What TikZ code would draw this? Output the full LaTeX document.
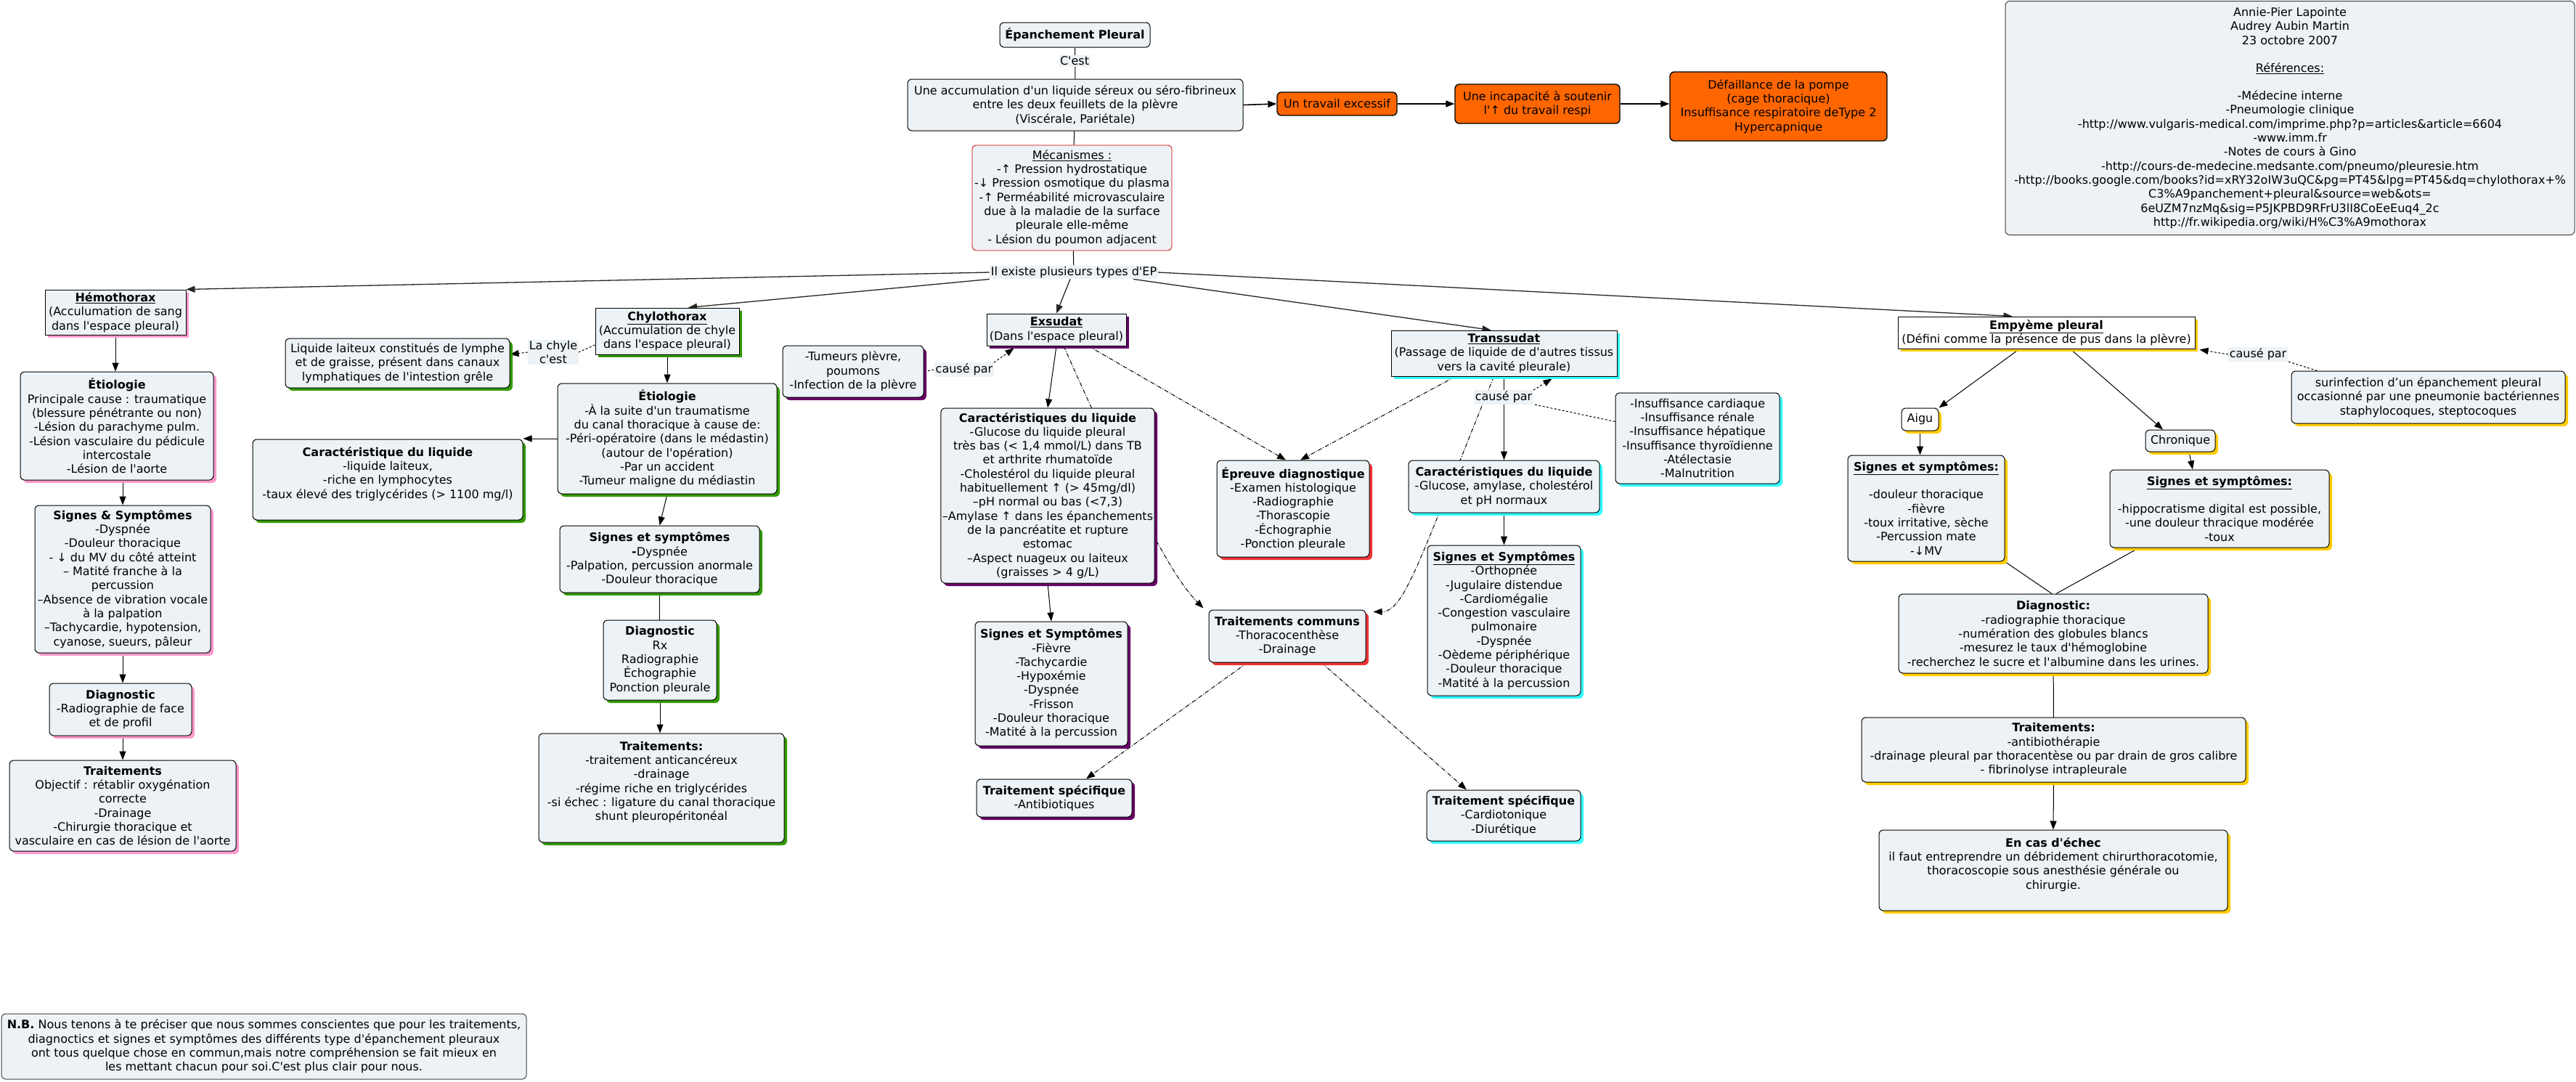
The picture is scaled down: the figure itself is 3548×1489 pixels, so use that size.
\documentclass[tikz,border=0pt]{standalone}
\usepackage{fontspec}
\setmainfont{DejaVu Sans}[Ligatures=TeXOff]
\usetikzlibrary{arrows.meta,shadows}
\pgfdeclarelayer{background}
\pgfsetlayers{background,main}
\definecolor{nfill}{RGB}{236,242,245}
\definecolor{cpink}{RGB}{255,153,204}
\definecolor{cgreen}{RGB}{51,153,0}
\definecolor{cpurple}{RGB}{102,0,102}
\definecolor{cred}{RGB}{238,51,51}
\definecolor{ccyan}{RGB}{51,255,255}
\definecolor{cyellow}{RGB}{255,204,0}
\definecolor{corange}{RGB}{255,102,0}
\definecolor{cmeca}{RGB}{204,0,0}
\begin{document}
\begin{tikzpicture}[x=1pt,y=-1pt,
  every node/.style={font=\fontsize{16}{19.3}\selectfont},
  box/.style={draw=black, line width=1pt, fill=nfill, rounded corners=6pt, align=center, inner sep=2pt},
  sqbox/.style={box, rounded corners=0pt},
  obox/.style={box, fill=corange, line width=1.4pt},
  sz/.style 2 args={minimum width=#1pt, minimum height=#2pt},
  shpink/.style={drop shadow={shadow xshift=4pt,shadow yshift=-4pt,fill=cpink,opacity=1}},
  shgreen/.style={drop shadow={shadow xshift=4pt,shadow yshift=-4pt,fill=cgreen,opacity=1}},
  shpurple/.style={drop shadow={shadow xshift=4pt,shadow yshift=-4pt,fill=cpurple,opacity=1}},
  shred/.style={drop shadow={shadow xshift=4pt,shadow yshift=-4pt,fill=cred,opacity=1}},
  shcyan/.style={drop shadow={shadow xshift=4pt,shadow yshift=-4pt,fill=ccyan,opacity=1}},
  shyellow/.style={drop shadow={shadow xshift=4pt,shadow yshift=-4pt,fill=cyellow,opacity=1}},
  lbl/.style={fill=nfill, inner sep=1.5pt, align=center},
  arr/.style={-{Triangle[length=12pt,width=9pt]}, line width=1pt},
  ln/.style={line width=1pt},
  dsh/.style={dash pattern=on 3pt off 2.5pt},
  ddot/.style={dash pattern=on 6pt off 2pt on 1pt off 2pt}
]
\useasboundingbox (0,0) rectangle (3548,1489);

% ---------- top ----------
\node[box,sz={207}{34}] (ep) at (1480.5,48) {\textbf{Épanchement Pleural}};
\node[lbl] (cest) at (1480,84) {C'est};
\node[box,sz={462}{71}] (def) at (1481,144.5) {Une accumulation d'un liquide séreux ou séro-fibrineux\\entre les deux feuillets de la plèvre\\(Viscérale, Pariétale)};
\node[obox,sz={165}{32}] (trav) at (1841.5,143) {Un travail excessif};
\node[obox,sz={227}{54}] (incap) at (2117.5,143) {Une incapacité à soutenir\\l'↑ du travail respi};
\node[obox,sz={299}{95}] (defail) at (2449.5,146.5) {Défaillance de la pompe\\(cage thoracique)\\Insuffisance respiratoire deType 2\\Hypercapnique};
\node[box,draw=cmeca,line width=0.8pt,sz={275}{145}] (meca) at (1476.5,272.5) {\underline{Mécanismes :}\\-↑ Pression hydrostatique\\-↓ Pression osmotique du plasma\\-↑ Perméabilité microvasculaire\\due à la maladie de la surface\\pleurale elle-même\\- Lésion du poumon adjacent};
\node[lbl] (types) at (1479,375) {Il existe plusieurs types d'EP};
\node[box,draw=black!75,sz={784}{322}] (refs) at (3154,162.5) {Annie-Pier Lapointe\\Audrey Aubin Martin\\23 octobre 2007\\[19pt]\underline{Références:}\\[19pt]-Médecine interne\\-Pneumologie clinique\\-http://www.vulgaris-medical.com/imprime.php?p=articles\&article=6604\\-www.imm.fr\\-Notes de cours à Gino\\-http://cours-de-medecine.medsante.com/pneumo/pleuresie.htm\\-http://books.google.com/books?id=xRY32oIW3uQC\&pg=PT45\&lpg=PT45\&dq=chylothorax+\%\\C3\%A9panchement+pleural\&source=web\&ots=\\6eUZM7nzMq\&sig=P5JKPBD9RFrU3lI8CoEeEuq4\_2c\\http://fr.wikipedia.org/wiki/H\%C3\%A9mothorax};

% ---------- Hemothorax ----------
\node[sqbox,shpink,sz={194}{62}] (hemo) at (159,430) {\underline{\textbf{Hémothorax}}\\(Acculumation de sang\\dans l'espace pleural)};
\node[box,shpink,sz={266}{149}] (hetio) at (161,586.5) {\textbf{Étiologie}\\Principale cause : traumatique\\(blessure pénétrante ou non)\\-Lésion du parachyme pulm.\\-Lésion vasculaire du pédicule\\intercostale\\-Lésion de l'aorte};
\node[box,shpink,sz={242}{203}] (hss) at (169,797.5) {\textbf{Signes \& Symptômes}\\-Dyspnée\\-Douleur thoracique\\- ↓ du MV du côté atteint\\– Matité franche à la\\percussion\\–Absence de vibration vocale\\à la palpation\\–Tachycardie, hypotension,\\cyanose, sueurs, pâleur};
\node[box,shpink,sz={196}{72}] (hdiag) at (166,977) {\textbf{Diagnostic}\\-Radiographie de face\\et de profil};
\node[box,shpink,sz={312}{125}] (htrt) at (169,1109.5) {\textbf{Traitements}\\Objectif : rétablir oxygénation\\correcte\\-Drainage\\-Chirurgie thoracique et\\vasculaire en cas de lésion de l'aorte};

% ---------- Chylothorax ----------
\node[sqbox,shgreen,sz={198}{64}] (chylo) at (919,456) {\underline{\textbf{Chylothorax}}\\(Accumulation de chyle\\dans l'espace pleural)};
\node[box,shgreen,sz={309}{68}] (cdef) at (547.5,500) {Liquide laiteux constitués de lymphe\\et de graisse, présent dans canaux\\lymphatiques de l'intestion grêle};
\node[lbl] (lchyle) at (762,485) {La chyle\\c'est};
\node[box,shgreen,sz={372}{111}] (ccar) at (534,660.5) {\textbf{Caractéristique du liquide}\\-liquide laiteux,\\-riche en lymphocytes\\-taux élevé des triglycérides (> 1100 mg/l)\\\mbox{}};
\node[box,shgreen,sz={302}{152}] (cetio) at (919,604) {\textbf{Étiologie}\\-À la suite d'un traumatisme\\du canal thoracique à cause de:\\-Péri-opératoire (dans le médastin)\\(autour de l'opération)\\-Par un accident\\-Tumeur maligne du médiastin};
\node[box,shgreen,sz={275}{92}] (css) at (908.5,770) {\textbf{Signes et symptômes}\\\textbf{-}Dyspnée\\-Palpation, percussion anormale\\-Douleur thoracique};
\node[box,shgreen,sz={156}{110}] (cdiag) at (909,909) {\textbf{Diagnostic}\\Rx\\Radiographie\\Échographie\\Ponction pleurale};
\node[box,shgreen,sz={338}{150}] (ctrt) at (911,1085) {\textbf{Traitements:}\\-traitement anticancéreux\\-drainage\\-régime riche en triglycérides\\-si échec : ligature du canal thoracique\\shunt pleuropéritonéal\\\mbox{}};

% ---------- Exsudat ----------
\node[sqbox,shpurple,sz={192}{44}] (exs) at (1455,454) {\underline{\textbf{Exsudat}}\\(Dans l'espace pleural)};
\node[box,shpurple,sz={194}{71}] (tum) at (1175,511.5) {-Tumeurs plèvre,\\poumons\\-Infection de la plèvre};
\node[lbl] (cp1) at (1328,509) {causé par};
\node[box,shpurple,sz={290}{241}] (ecar) at (1443,682.5) {\textbf{Caractéristiques du liquide}\\-Glucose du liquide pleural\\très bas (< 1,4 mmol/L) dans TB\\et arthrite rhumatoïde\\-Cholestérol du liquide pleural\\habituellement ↑ (> 45mg/dl)\\–pH normal ou bas (<7,3)\\–Amylase ↑ dans les épanchements\\de la pancréatite et rupture\\estomac\\–Aspect nuageux ou laiteux\\(graisses > 4 g/L)};
\node[box,shpurple,sz={210}{171}] (ess) at (1448,941.5) {\textbf{Signes et Symptômes}\\-Fièvre\\-Tachycardie\\-Hypoxémie\\-Dyspnée\\-Frisson\\-Douleur thoracique\\-Matité à la percussion};
\node[box,shpurple,sz={214}{52}] (ets) at (1452,1099) {\textbf{Traitement spécifique}\\-Antibiotiques};
\node[box,shred,sz={210}{133}] (epr) at (1781,700.5) {\textbf{Épreuve diagnostique}\\-Examen histologique\\-Radiographie\\-Thorascopie\\-Échographie\\-Ponction pleurale};
\node[box,shred,sz={216}{72}] (trtc) at (1773,876) {\textbf{Traitements communs}\\-Thoracocenthèse\\-Drainage};

% ---------- Transsudat ----------
\node[sqbox,shcyan,sz={311}{63}] (trans) at (2071.5,486.5) {\underline{\textbf{Transsudat}}\\(Passage de liquide de d'autres tissus\\vers la cavité pleurale)};
\node[lbl] (cp2) at (2071,547) {causé par};
\node[box,shcyan,sz={226}{125}] (insuf) at (2338,603.5) {-Insuffisance cardiaque\\-Insuffisance rénale\\-Insuffisance hépatique\\-Insuffisance thyroïdienne\\-Atélectasie\\-Malnutrition};
\node[box,shcyan,sz={263}{72}] (tcar) at (2071.5,670) {\textbf{Caractéristiques du liquide}\\-Glucose, amylase, cholestérol\\et pH normaux};
\node[box,shcyan,sz={211}{207}] (tss) at (2071.5,854.5) {\underline{\textbf{Signes et Symptômes}}\\-Orthopnée\\-Jugulaire distendue\\-Cardiomégalie\\-Congestion vasculaire\\pulmonaire\\-Dyspnée\\-Oèdeme périphérique\\-Douleur thoracique\\-Matité à la percussion};
\node[box,shcyan,sz={212}{70}] (tts) at (2071,1123) {\textbf{Traitement spécifique}\\-Cardiotonique\\-Diurétique};

% ---------- Empyeme ----------
\node[sqbox,shyellow,fill=white,sz={409}{44}] (emp) at (2818.5,458) {\underline{\textbf{Empyème pleural}}\\(Défini comme la présence de pus dans la plèvre)};
\node[lbl] (cp3) at (3110,488) {causé par};
\node[box,shyellow,sz={377}{72}] (surinf) at (3344.5,547) {surinfection d’un épanchement pleural\\occasionné par une pneumonie bactériennes\\staphylocoques, steptocoques};
\node[box,shyellow,fill=white,sz={51}{31}] (aigu) at (2644.5,577.5) {Aigu};
\node[box,shyellow,sz={96}{30}] (chron) at (3003,607) {Chronique};
\node[box,shyellow,sz={216}{146}] (ass) at (2653,700) {\underline{\textbf{Signes et symptômes:}}\\[19pt]-douleur thoracique\\-fièvre\\-toux irritative, sèche\\-Percussion mate\\-↓MV};
\node[box,shyellow,sz={302}{107}] (chss) at (3057,700.5) {\underline{\textbf{Signes et symptômes:}}\\[19pt]-hippocratisme digital est possible,\\-une douleur thracique modérée\\-toux};
\node[box,shyellow,sz={426}{109}] (ediag) at (2828,872.5) {\textbf{Diagnostic:}\\-radiographie thoracique\\-numération des globules blancs\\-mesurez le taux d'hémoglobine\\-recherchez le sucre et l'albumine dans les urines.};
\node[box,shyellow,sz={529}{89}] (etrt) at (2828.5,1032.5) {\textbf{Traitements:}\\-antibiothérapie\\-drainage pleural par thoracentèse ou par drain de gros calibre\\- fibrinolyse intrapleurale};
\node[box,shyellow,sz={480}{111}] (echec) at (2828,1198.5) {\textbf{En cas d'échec}\\il faut entreprendre un débridement chirurthoracotomie,\\thoracoscopie sous anesthésie générale ou\\chirurgie.\\\mbox{}};

% ---------- N.B. ----------
\node[box,draw=black!75,sz={723}{90}] (nb) at (363.5,1441) {\textbf{N.B.} Nous tenons à te préciser que nous sommes conscientes que pour les traitements,\\diagnoctics et signes et symptômes des différents type d'épanchement pleuraux\\ont tous quelque chose en commun,mais notre compréhension se fait mieux en\\les mettant chacun pour soi.C'est plus clair pour nous.};

% ---------- connectors ----------
\begin{pgfonlayer}{background}
\fill[white] (0,0) rectangle (3548,1489);
\draw[ln] (ep) -- (def);
\draw[arr,line width=1.6pt] (def.east) -- (trav.west);
\draw[arr,line width=1.6pt] (trav.east) -- (incap.west);
\draw[arr,line width=1.6pt] (incap.east) -- (incap.east -| defail.west);
\draw[ln] (def) -- (meca);
\draw[ln] (meca) -- (types);
\draw[arr,line width=1.3pt,black!85] (types.west) -- (hemo.north east);
\draw[arr,line width=1.3pt,black!85] (types.south west) -- ([xshift=29pt]chylo.north);
\draw[arr,line width=1.3pt,black!85] ([xshift=-5pt]types.south) -- (exs.north);
\draw[arr,line width=1.3pt,black!85] ([xshift=82pt]types.south) -- ([xshift=-18pt]trans.north);
\draw[arr,line width=1.3pt,black!85] (types.east) -- ([xshift=-47pt]emp.north);
% hemothorax
\draw[arr] (hemo.south) -- (hemo.south |- hetio.north);
\draw[arr] (hetio.south -| hss.north) -- (hss.north);
\draw[arr] (hss.south) -- (hss.south |- hdiag.north);
\draw[arr] (hdiag.south -| htrt.north) -- (htrt.north);
% chylothorax
\draw[arr] (chylo.south) -- (cetio.north);
\draw[ln,dsh] ([yshift=-19pt]chylo.west) -- (lchyle.east);
\draw[arr,dsh] (lchyle.west) -- ([yshift=12pt]cdef.east);
\draw[arr] (cetio.west) -- (cetio.west -| ccar.east);
\draw[arr] (cetio.south) -- (css.north);
\draw[ln] (css.south) -- (css.south |- cdiag.north);
\draw[arr] (cdiag.south) -- (cdiag.south |- ctrt.north);
% exsudat
\draw[arr] (exs.south) -- (ecar.north);
\draw[arr] (ecar.south) -- (ess.north);
\draw[ln,dsh] (tum.east) -- (cp1.west);
\draw[arr,dsh] (cp1.north east) -- ([xshift=38pt,yshift=-3pt]exs.south west);
\draw[arr,ddot] ([xshift=10pt]exs.south) .. controls (1575,724) and (1620,800) .. ([xshift=-7pt,yshift=2pt]trtc.north west);
\draw[arr,ddot] ([xshift=44pt]exs.south) -- ([xshift=-10pt]epr.north);
\draw[arr,ddot] ([xshift=-67pt]trans.south) -- ([xshift=10pt]epr.north);
\draw[arr,ddot] ([xshift=-14pt]trans.south) .. controls (1955,770) and (1935,842) .. ([xshift=10pt,yshift=-3pt]trtc.north east);
\draw[arr,ddot] ([xshift=-55pt]trtc.south) -- ([xshift=44pt]ets.north);
\draw[arr,ddot] ([xshift=47pt]trtc.south) -- ([xshift=-51pt]tts.north);
% transsudat
\draw[arr] (trans.south) -- (tcar.north);
\draw[arr] (tcar.south) -- (tss.north);
\draw[ln,dsh] ([yshift=23pt]insuf.west) -- (cp2.south east);
\draw[arr,dsh] (cp2.north east) -- ([xshift=-90pt,yshift=-3pt]trans.south east);
% empyeme
\draw[arr] ([xshift=-37pt]emp.south) -- (aigu.north east);
\draw[arr] ([xshift=33pt]emp.south) -- ([xshift=-24pt]chron.north);
\draw[arr] (aigu.south) -- (aigu.south |- ass.north);
\draw[arr] ([xshift=12pt]chron.south) -- ([xshift=-37pt]chss.north);
\draw[ln] (ass.south east) -- ([xshift=-2pt]ediag.north);
\draw[ln] ([xshift=-111pt]chss.south) -- ([xshift=4pt]ediag.north);
\draw[ln] (ediag) -- (etrt);
\draw[arr] (etrt.south) -- (echec.north);
\draw[ln,dsh] ([xshift=36pt]surinf.north west) -- (cp3.south east);
\draw[arr,dsh] (cp3.west) -- ([xshift=6pt,yshift=-1pt]emp.south east);
\end{pgfonlayer}
\end{tikzpicture}
\end{document}
